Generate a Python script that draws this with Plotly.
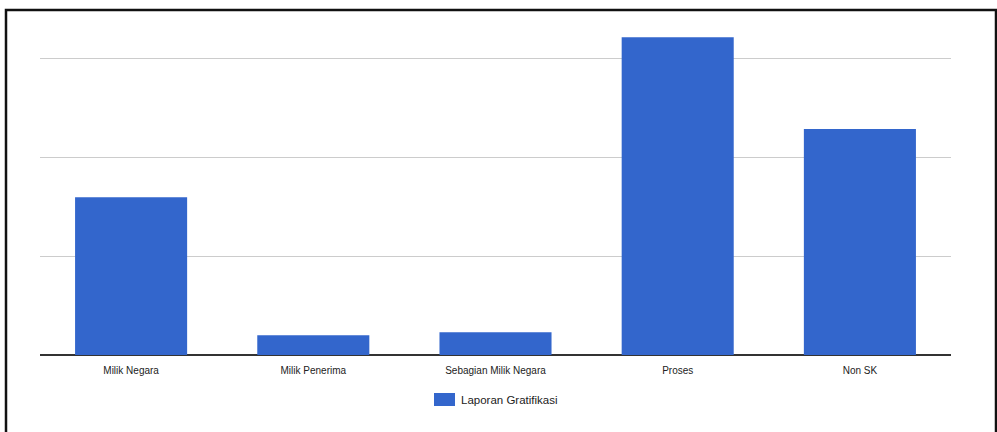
import plotly.graph_objects as go

categories = ["Milik Negara", "Milik Penerima", "Sebagian Milik Negara", "Proses", "Non SK"]
values = [160, 20, 23, 322, 229]
series_name = "Laporan Gratifikasi"
bar_color = "#3366CC"

W, H = 997, 432
ml, mr, mt, mb = 40, 46, 21, 77
plot_w = W - ml - mr
plot_h = H - mt - mb
y_top = 338.5

def px_x(x):
    return (x - ml) / plot_w

def px_y(y):
    return (H - mb - y) / plot_h

fig = go.Figure(go.Bar(
    x=categories, y=values, name=series_name,
    marker=dict(color=bar_color, line=dict(width=0)),
    showlegend=False,
))

fig.update_layout(
    width=W, height=H,
    margin=dict(l=ml, r=mr, t=mt, b=mb),
    paper_bgcolor="white", plot_bgcolor="white",
    bargap=0.385,
    font=dict(family="Liberation Sans, Arial, sans-serif", size=10, color="#222222"),
    xaxis=dict(showgrid=False, ticks="outside", ticklen=6, tickcolor="white",
               tickfont=dict(size=10, color="#222222"), showline=False),
    yaxis=dict(range=[0, y_top], dtick=100, showgrid=True, gridcolor="#cccccc",
               gridwidth=1, showticklabels=False, zeroline=True,
               zerolinecolor="#333333", zerolinewidth=1.5, showline=False),
    shapes=[
        # outer frame
        dict(type="rect", xref="paper", yref="paper",
             x0=px_x(6), x1=px_x(996), y0=px_y(445), y1=px_y(10),
             line=dict(color="#111111", width=2.5), fillcolor="rgba(0,0,0,0)", layer="above"),
        # legend swatch
        dict(type="rect", xref="paper", yref="paper",
             x0=px_x(434), x1=px_x(455), y0=px_y(406), y1=px_y(393),
             line=dict(width=0), fillcolor=bar_color),
    ],
    annotations=[
        dict(text=series_name, xref="paper", yref="paper",
             x=px_x(459), y=px_y(400), xanchor="left", yanchor="middle",
             showarrow=False, font=dict(size=11.5, color="#222222")),
    ],
)

fig.write_html("out.html")
